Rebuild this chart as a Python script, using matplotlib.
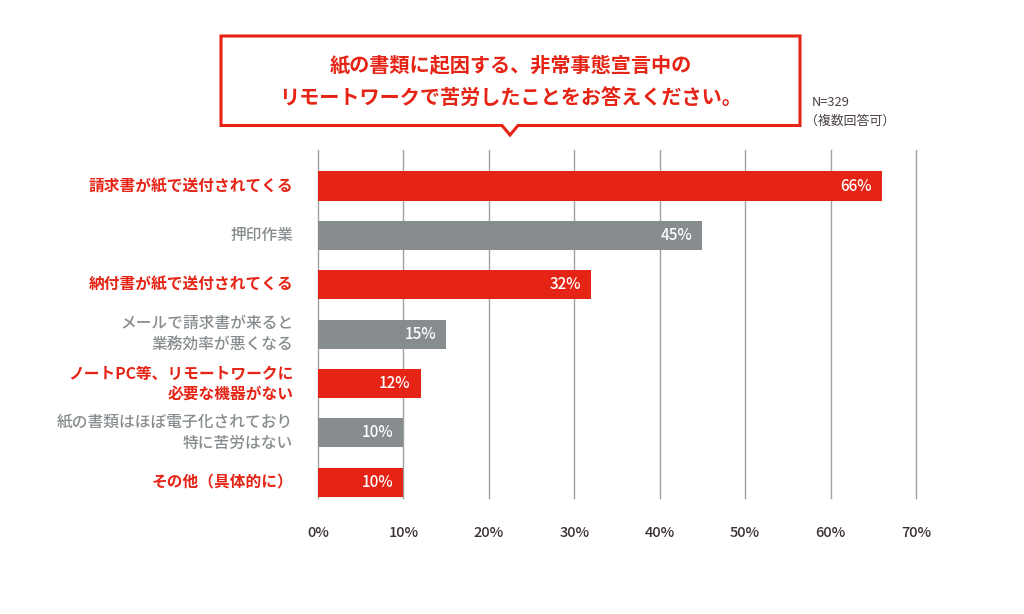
import matplotlib
matplotlib.use("Agg")
import matplotlib.pyplot as plt
from matplotlib.patches import Polygon

plt.rcParams['font.family'] = ['Noto Sans CJK JP', 'DejaVu Sans']

categories = [
    "請求書が紙で送付されてくる",
    "押印作業",
    "納付書が紙で送付されてくる",
    "メールで請求書が来ると\n業務効率が悪くなる",
    "ノートPC等、リモートワークに\n必要な機器がない",
    "紙の書類はほぼ電子化されており\n特に苦労はない",
    "その他（具体的に）",
]
values = [66, 45, 32, 15, 12, 10, 10]
highlight = [True, False, True, False, True, False, True]
xticks = [0, 10, 20, 30, 40, 50, 60, 70]
title_lines = ["紙の書類に起因する、非常事態宣言中の",
               "リモートワークで苦労したことをお答えください。"]
note_lines = ["N=329", "（複数回答可）"]

RED = "#E52416"
GRAY = "#878C8F"
GRID = "#A0A0A0"
TICK = "#3A3030"

W, H = 1024, 614
fig = plt.figure(figsize=(W / 100, H / 100), dpi=100)

def fx(px):
    return px / W

def fy(py):
    return 1 - py / H

left, right, top, bottom = 318, 916, 150, 498
ax = fig.add_axes([fx(left), fy(bottom), fx(right) - fx(left), fy(top) - fy(bottom)])

ys = list(range(len(categories)))
colors = [RED if h else GRAY for h in highlight]
ax.barh(ys, values, height=0.59, color=colors, zorder=3)
ax.set_xlim(0, 70)
ax.set_ylim(6.32, -0.73)

for x in xticks:
    ax.axvline(x, color=GRID, lw=1.0, zorder=1, clip_on=False)

for y, v in zip(ys, values):
    ax.text(v - 1.2, y, f"{v}%", color="white", ha="right", va="center",
            fontsize=11, fontweight="medium", zorder=4)

ax.set_xticks(xticks)
ax.set_xticklabels([f"{x}%" for x in xticks], color=TICK, fontsize=10.5, fontweight="medium")
ax.tick_params(axis="x", length=0, pad=20)
ax.set_yticks([])
for s in ax.spines.values():
    s.set_visible(False)

for y, lab, h in zip(ys, categories, highlight):
    ax.text(-2.9, y, lab, ha="right", va="center",
            color=RED if h else GRAY, fontsize=11.3,
            fontweight="bold" if h else "medium", linespacing=1.3)

# title box with pointer
pts_px = [(221, 36), (800, 36), (800, 125.5), (518, 125.5), (510, 135),
          (502, 125.5), (221, 125.5)]
poly = Polygon([(fx(x), fy(y)) for x, y in pts_px], closed=True,
               transform=fig.transFigure, facecolor="white", edgecolor=RED, lw=2.2)
fig.patches.append(poly)
fig.text(fx(511), fy(66), title_lines[0], ha="center", va="center",
         color=RED, fontsize=14.5, fontweight="bold")
fig.text(fx(511), fy(97), title_lines[1], ha="center", va="center",
         color=RED, fontsize=14.5, fontweight="bold")

fig.text(fx(812), fy(103), note_lines[0], ha="left", va="center",
         color="#4A4040", fontsize=9.3)
fig.text(fx(805), fy(121), note_lines[1], ha="left", va="center",
         color="#4A4040", fontsize=9.3)

fig.savefig("out.png", dpi=100, facecolor="white")
